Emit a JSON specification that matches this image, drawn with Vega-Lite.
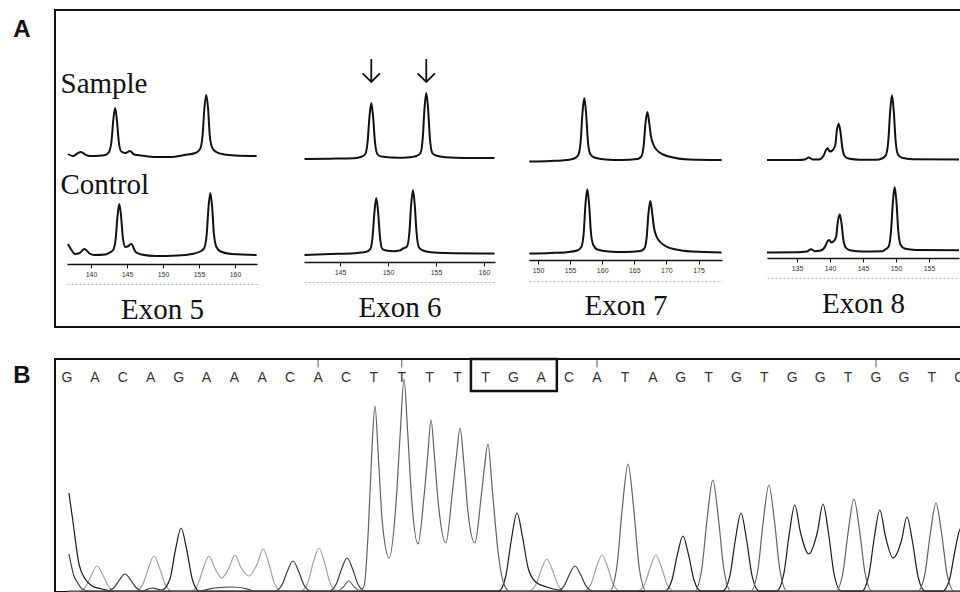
{
"$schema": "https://vega.github.io/schema/vega-lite/v6.json",
"background": "white",
"padding": {"left": 12, "top": 9, "right": 0, "bottom": 0},
"spacing": 28,
"config": {"view": {"stroke": "#111", "strokeWidth": 2}, "axis": {"grid": false, "labelOverlap": false}},
"datasets": {
"e5s": [{"bp":136.8,"rfu":20},{"bp":137.5,"rfu":0},{"bp":138.1,"rfu":25},{"bp":138.6,"rfu":40},{"bp":139.2,"rfu":15},{"bp":139.8,"rfu":0},{"bp":141.5,"rfu":5},{"bp":142.0,"rfu":10},{"bp":142.5,"rfu":40},{"bp":142.85,"rfu":150},{"bp":143.1,"rfu":360},{"bp":143.35,"rfu":480},{"bp":143.6,"rfu":360},{"bp":143.85,"rfu":150},{"bp":144.2,"rfu":45},{"bp":144.8,"rfu":30},{"bp":145.4,"rfu":50},{"bp":146.0,"rfu":15},{"bp":147.0,"rfu":5},{"bp":149.0,"rfu":-10},{"bp":151.0,"rfu":-10},{"bp":153.0,"rfu":10},{"bp":154.5,"rfu":30},{"bp":155.15,"rfu":70},{"bp":155.5,"rfu":210},{"bp":155.75,"rfu":480},{"bp":156.0,"rfu":610},{"bp":156.25,"rfu":480},{"bp":156.5,"rfu":200},{"bp":156.85,"rfu":80},{"bp":157.4,"rfu":40},{"bp":158.5,"rfu":15},{"bp":160.0,"rfu":5},{"bp":163.0,"rfu":0}],
"e5c": [{"bp":136.8,"rfu":110},{"bp":137.2,"rfu":60},{"bp":137.8,"rfu":10},{"bp":138.4,"rfu":20},{"bp":139.1,"rfu":60},{"bp":139.8,"rfu":15},{"bp":140.5,"rfu":0},{"bp":142.0,"rfu":5},{"bp":142.6,"rfu":25},{"bp":143.08,"rfu":50},{"bp":143.43,"rfu":165},{"bp":143.68,"rfu":385},{"bp":143.93,"rfu":510},{"bp":144.18,"rfu":385},{"bp":144.43,"rfu":170},{"bp":144.78,"rfu":80},{"bp":145.2,"rfu":90},{"bp":145.6,"rfu":110},{"bp":146.2,"rfu":30},{"bp":147.0,"rfu":5},{"bp":149.0,"rfu":-10},{"bp":152.0,"rfu":-5},{"bp":154.0,"rfu":10},{"bp":155.3,"rfu":40},{"bp":155.72,"rfu":70},{"bp":156.07,"rfu":210},{"bp":156.32,"rfu":480},{"bp":156.57,"rfu":620},{"bp":156.82,"rfu":480},{"bp":157.07,"rfu":210},{"bp":157.42,"rfu":80},{"bp":158.0,"rfu":35},{"bp":159.5,"rfu":10},{"bp":163.0,"rfu":0}],
"e6s": [{"bp":141.3,"rfu":0},{"bp":144,"rfu":3},{"bp":146.5,"rfu":8},{"bp":147.22,"rfu":22},{"bp":147.63,"rfu":48},{"bp":147.88,"rfu":175},{"bp":148.07,"rfu":420},{"bp":148.26,"rfu":560},{"bp":148.45,"rfu":420},{"bp":148.64,"rfu":175},{"bp":148.89,"rfu":50},{"bp":149.3,"rfu":25},{"bp":150.5,"rfu":15},{"bp":151.5,"rfu":12},{"bp":152.5,"rfu":20},{"bp":152.95,"rfu":30},{"bp":153.36,"rfu":55},{"bp":153.62,"rfu":205},{"bp":153.8,"rfu":500},{"bp":153.99,"rfu":660},{"bp":154.18,"rfu":500},{"bp":154.37,"rfu":205},{"bp":154.62,"rfu":60},{"bp":155.0,"rfu":35},{"bp":156.0,"rfu":18},{"bp":158.0,"rfu":10},{"bp":161.1,"rfu":10}],
"e6c": [{"bp":141.3,"rfu":-10},{"bp":144,"rfu":0},{"bp":146.5,"rfu":8},{"bp":147.74,"rfu":22},{"bp":148.15,"rfu":48},{"bp":148.4,"rfu":175},{"bp":148.59,"rfu":420},{"bp":148.78,"rfu":560},{"bp":148.97,"rfu":420},{"bp":149.16,"rfu":175},{"bp":149.41,"rfu":50},{"bp":149.8,"rfu":35},{"bp":150.6,"rfu":28},{"bp":151.2,"rfu":35},{"bp":151.56,"rfu":55},{"bp":151.97,"rfu":75},{"bp":152.23,"rfu":215},{"bp":152.41,"rfu":490},{"bp":152.6,"rfu":640},{"bp":152.79,"rfu":490},{"bp":152.98,"rfu":210},{"bp":153.23,"rfu":65},{"bp":153.64,"rfu":35},{"bp":154.5,"rfu":18},{"bp":156.0,"rfu":10},{"bp":161.1,"rfu":5}],
"e7s": [{"bp":148.65,"rfu":-5},{"bp":152,"rfu":0},{"bp":154.5,"rfu":10},{"bp":155.65,"rfu":25},{"bp":156.28,"rfu":60},{"bp":156.65,"rfu":200},{"bp":156.93,"rfu":480},{"bp":157.21,"rfu":630},{"bp":157.49,"rfu":480},{"bp":157.77,"rfu":200},{"bp":158.14,"rfu":70},{"bp":158.77,"rfu":35},{"bp":160.5,"rfu":15},{"bp":163.0,"rfu":10},{"bp":165.47,"rfu":20},{"bp":166.1,"rfu":45},{"bp":166.47,"rfu":160},{"bp":166.75,"rfu":380},{"bp":167.03,"rfu":490},{"bp":167.31,"rfu":390},{"bp":167.59,"rfu":250},{"bp":168.0,"rfu":160},{"bp":168.5,"rfu":110},{"bp":169.5,"rfu":65},{"bp":171.0,"rfu":35},{"bp":173.5,"rfu":15},{"bp":178.6,"rfu":10}],
"e7c": [{"bp":148.65,"rfu":-5},{"bp":152,"rfu":0},{"bp":154.5,"rfu":8},{"bp":156.12,"rfu":25},{"bp":156.75,"rfu":60},{"bp":157.12,"rfu":200},{"bp":157.4,"rfu":490},{"bp":157.68,"rfu":637},{"bp":157.96,"rfu":490},{"bp":158.24,"rfu":210},{"bp":158.61,"rfu":80},{"bp":159.24,"rfu":35},{"bp":161.0,"rfu":15},{"bp":163.5,"rfu":10},{"bp":165.93,"rfu":20},{"bp":166.56,"rfu":45},{"bp":166.93,"rfu":160},{"bp":167.21,"rfu":400},{"bp":167.49,"rfu":520},{"bp":167.77,"rfu":410},{"bp":168.05,"rfu":260},{"bp":168.46,"rfu":165},{"bp":168.96,"rfu":115},{"bp":169.96,"rfu":65},{"bp":171.5,"rfu":35},{"bp":174.0,"rfu":15},{"bp":178.6,"rfu":5}],
"e8s": [{"bp":130.45,"rfu":0},{"bp":135.0,"rfu":0},{"bp":136.2,"rfu":5},{"bp":136.77,"rfu":25},{"bp":137.4,"rfu":5},{"bp":138.3,"rfu":5},{"bp":139.0,"rfu":40},{"bp":139.4,"rfu":100},{"bp":139.65,"rfu":117},{"bp":139.95,"rfu":85},{"bp":140.25,"rfu":90},{"bp":140.77,"rfu":140},{"bp":141.05,"rfu":300},{"bp":141.32,"rfu":363},{"bp":141.59,"rfu":280},{"bp":141.87,"rfu":120},{"bp":142.23,"rfu":40},{"bp":142.8,"rfu":15},{"bp":144.5,"rfu":3},{"bp":147.0,"rfu":2},{"bp":147.89,"rfu":15},{"bp":148.48,"rfu":50},{"bp":148.84,"rfu":195},{"bp":149.12,"rfu":490},{"bp":149.39,"rfu":647},{"bp":149.66,"rfu":490},{"bp":149.94,"rfu":195},{"bp":150.3,"rfu":55},{"bp":150.9,"rfu":22},{"bp":152.5,"rfu":8},{"bp":159.55,"rfu":5}],
"e8c": [{"bp":130.45,"rfu":-5},{"bp":135.0,"rfu":-3},{"bp":136.5,"rfu":5},{"bp":137.12,"rfu":27},{"bp":137.7,"rfu":8},{"bp":138.6,"rfu":15},{"bp":139.3,"rfu":60},{"bp":139.6,"rfu":105},{"bp":139.89,"rfu":120},{"bp":140.2,"rfu":95},{"bp":140.5,"rfu":105},{"bp":140.92,"rfu":150},{"bp":141.2,"rfu":310},{"bp":141.47,"rfu":377},{"bp":141.74,"rfu":290},{"bp":142.02,"rfu":125},{"bp":142.38,"rfu":45},{"bp":143.0,"rfu":18},{"bp":145.0,"rfu":5},{"bp":148.0,"rfu":8},{"bp":148.3,"rfu":22},{"bp":148.89,"rfu":55},{"bp":149.25,"rfu":210},{"bp":149.53,"rfu":500},{"bp":149.8,"rfu":650},{"bp":150.07,"rfu":500},{"bp":150.35,"rfu":210},{"bp":150.71,"rfu":70},{"bp":151.3,"rfu":35},{"bp":153.0,"rfu":20},{"bp":159.55,"rfu":17}],
"arrows": [{"bp":148.26},{"bp":153.99}],
"calls": [{"pos":0,"base":"G"},{"pos":1,"base":"A"},{"pos":2,"base":"C"},{"pos":3,"base":"A"},{"pos":4,"base":"G"},{"pos":5,"base":"A"},{"pos":6,"base":"A"},{"pos":7,"base":"A"},{"pos":8,"base":"C"},{"pos":9,"base":"A"},{"pos":10,"base":"C"},{"pos":11,"base":"T"},{"pos":12,"base":"T"},{"pos":13,"base":"T"},{"pos":14,"base":"T"},{"pos":15,"base":"T"},{"pos":16,"base":"G"},{"pos":17,"base":"A"},{"pos":18,"base":"C"},{"pos":19,"base":"A"},{"pos":20,"base":"T"},{"pos":21,"base":"A"},{"pos":22,"base":"G"},{"pos":23,"base":"T"},{"pos":24,"base":"G"},{"pos":25,"base":"T"},{"pos":26,"base":"G"},{"pos":27,"base":"G"},{"pos":28,"base":"T"},{"pos":29,"base":"G"},{"pos":30,"base":"G"},{"pos":31,"base":"T"},{"pos":32,"base":"G"}],
"chromatogram": [
{"base":"A","pos":0.05,"rfu":0},{"base":"A","pos":0.43,"rfu":0},{"base":"A","pos":0.68,"rfu":48},{"base":"A","pos":0.88,"rfu":165},{"base":"A","pos":1.08,"rfu":250},{"base":"A","pos":1.28,"rfu":165},{"base":"A","pos":1.48,"rfu":48},{"base":"A","pos":1.73,"rfu":0},{"base":"A","pos":2.47,"rfu":0},{"base":"A","pos":2.72,"rfu":66},{"base":"A","pos":2.92,"rfu":230},{"base":"A","pos":3.12,"rfu":350},{"base":"A","pos":3.32,"rfu":230},{"base":"A","pos":3.52,"rfu":66},{"base":"A","pos":3.77,"rfu":0},{"base":"A","pos":4.44,"rfu":0},{"base":"A","pos":4.69,"rfu":66},{"base":"A","pos":4.89,"rfu":230},{"base":"A","pos":5.09,"rfu":350},{"base":"A","pos":5.29,"rfu":235},{"base":"A","pos":5.55,"rfu":130},{"base":"A","pos":5.82,"rfu":240},{"base":"A","pos":6.02,"rfu":360},{"base":"A","pos":6.22,"rfu":245},{"base":"A","pos":6.52,"rfu":150},{"base":"A","pos":6.83,"rfu":280},{"base":"A","pos":7.03,"rfu":420},{"base":"A","pos":7.23,"rfu":280},{"base":"A","pos":7.43,"rfu":80},{"base":"A","pos":7.68,"rfu":0},{"base":"A","pos":8.38,"rfu":0},{"base":"A","pos":8.63,"rfu":82},{"base":"A","pos":8.83,"rfu":285},{"base":"A","pos":9.03,"rfu":430},{"base":"A","pos":9.23,"rfu":285},{"base":"A","pos":9.43,"rfu":82},{"base":"A","pos":9.68,"rfu":0},{"base":"A","pos":16.55,"rfu":0},{"base":"A","pos":16.8,"rfu":60},{"base":"A","pos":17.0,"rfu":210},{"base":"A","pos":17.2,"rfu":320},{"base":"A","pos":17.4,"rfu":210},{"base":"A","pos":17.6,"rfu":60},{"base":"A","pos":17.85,"rfu":0},{"base":"A","pos":18.53,"rfu":0},{"base":"A","pos":18.78,"rfu":68},{"base":"A","pos":18.98,"rfu":238},{"base":"A","pos":19.18,"rfu":360},{"base":"A","pos":19.38,"rfu":238},{"base":"A","pos":19.58,"rfu":68},{"base":"A","pos":19.83,"rfu":0},{"base":"A","pos":20.46,"rfu":0},{"base":"A","pos":20.71,"rfu":68},{"base":"A","pos":20.91,"rfu":238},{"base":"A","pos":21.11,"rfu":360},{"base":"A","pos":21.31,"rfu":238},{"base":"A","pos":21.51,"rfu":68},{"base":"A","pos":21.76,"rfu":0},{"base":"A","pos":32.4,"rfu":0},
{"base":"C","pos":0.07,"rfu":370},{"base":"C","pos":0.25,"rfu":150},{"base":"C","pos":0.39,"rfu":80},{"base":"C","pos":0.54,"rfu":20},{"base":"C","pos":0.8,"rfu":0},{"base":"C","pos":1.43,"rfu":0},{"base":"C","pos":1.68,"rfu":32},{"base":"C","pos":1.88,"rfu":112},{"base":"C","pos":2.08,"rfu":170},{"base":"C","pos":2.28,"rfu":112},{"base":"C","pos":2.48,"rfu":32},{"base":"C","pos":2.73,"rfu":0},{"base":"C","pos":4.7,"rfu":0},{"base":"C","pos":5.3,"rfu":30},{"base":"C","pos":5.9,"rfu":40},{"base":"C","pos":6.4,"rfu":25},{"base":"C","pos":6.7,"rfu":0},{"base":"C","pos":7.45,"rfu":0},{"base":"C","pos":7.7,"rfu":57},{"base":"C","pos":7.9,"rfu":198},{"base":"C","pos":8.1,"rfu":300},{"base":"C","pos":8.3,"rfu":198},{"base":"C","pos":8.5,"rfu":57},{"base":"C","pos":8.75,"rfu":0},{"base":"C","pos":9.39,"rfu":0},{"base":"C","pos":9.64,"rfu":63},{"base":"C","pos":9.84,"rfu":218},{"base":"C","pos":10.04,"rfu":330},{"base":"C","pos":10.24,"rfu":218},{"base":"C","pos":10.44,"rfu":63},{"base":"C","pos":10.69,"rfu":0},{"base":"C","pos":17.56,"rfu":0},{"base":"C","pos":17.81,"rfu":48},{"base":"C","pos":18.01,"rfu":165},{"base":"C","pos":18.21,"rfu":250},{"base":"C","pos":18.41,"rfu":165},{"base":"C","pos":18.61,"rfu":48},{"base":"C","pos":18.86,"rfu":0},{"base":"C","pos":32.4,"rfu":0},
{"base":"G","pos":0.07,"rfu":980},{"base":"G","pos":0.2,"rfu":720},{"base":"G","pos":0.43,"rfu":270},{"base":"G","pos":0.65,"rfu":120},{"base":"G","pos":0.9,"rfu":50},{"base":"G","pos":1.25,"rfu":20},{"base":"G","pos":1.6,"rfu":0},{"base":"G","pos":2.7,"rfu":0},{"base":"G","pos":3.05,"rfu":30},{"base":"G","pos":3.4,"rfu":10},{"base":"G","pos":3.69,"rfu":120},{"base":"G","pos":3.89,"rfu":415},{"base":"G","pos":4.09,"rfu":630},{"base":"G","pos":4.29,"rfu":415},{"base":"G","pos":4.49,"rfu":120},{"base":"G","pos":4.74,"rfu":0},{"base":"G","pos":15.48,"rfu":0},{"base":"G","pos":15.73,"rfu":150},{"base":"G","pos":15.93,"rfu":515},{"base":"G","pos":16.13,"rfu":780},{"base":"G","pos":16.33,"rfu":540},{"base":"G","pos":16.53,"rfu":230},{"base":"G","pos":16.8,"rfu":90},{"base":"G","pos":17.2,"rfu":40},{"base":"G","pos":17.6,"rfu":10},{"base":"G","pos":17.9,"rfu":0},{"base":"G","pos":21.43,"rfu":0},{"base":"G","pos":21.68,"rfu":105},{"base":"G","pos":21.88,"rfu":363},{"base":"G","pos":22.08,"rfu":550},{"base":"G","pos":22.28,"rfu":363},{"base":"G","pos":22.48,"rfu":105},{"base":"G","pos":22.73,"rfu":0},{"base":"G","pos":23.51,"rfu":0},{"base":"G","pos":23.76,"rfu":148},{"base":"G","pos":23.96,"rfu":515},{"base":"G","pos":24.16,"rfu":780},{"base":"G","pos":24.36,"rfu":515},{"base":"G","pos":24.56,"rfu":148},{"base":"G","pos":24.81,"rfu":0},{"base":"G","pos":25.44,"rfu":0},{"base":"G","pos":25.69,"rfu":163},{"base":"G","pos":25.89,"rfu":568},{"base":"G","pos":26.09,"rfu":860},{"base":"G","pos":26.29,"rfu":590},{"base":"G","pos":26.59,"rfu":370},{"base":"G","pos":26.9,"rfu":590},{"base":"G","pos":27.1,"rfu":870},{"base":"G","pos":27.3,"rfu":575},{"base":"G","pos":27.5,"rfu":165},{"base":"G","pos":27.75,"rfu":0},{"base":"G","pos":28.49,"rfu":0},{"base":"G","pos":28.74,"rfu":154},{"base":"G","pos":28.94,"rfu":535},{"base":"G","pos":29.14,"rfu":810},{"base":"G","pos":29.34,"rfu":545},{"base":"G","pos":29.61,"rfu":330},{"base":"G","pos":29.91,"rfu":500},{"base":"G","pos":30.11,"rfu":740},{"base":"G","pos":30.31,"rfu":490},{"base":"G","pos":30.51,"rfu":140},{"base":"G","pos":30.76,"rfu":0},{"base":"G","pos":31.39,"rfu":0},{"base":"G","pos":31.64,"rfu":120},{"base":"G","pos":31.84,"rfu":415},{"base":"G","pos":32.04,"rfu":630},{"base":"G","pos":32.24,"rfu":415},{"base":"G","pos":32.44,"rfu":120},
{"base":"T","pos":0.05,"rfu":0},{"base":"T","pos":9.7,"rfu":0},{"base":"T","pos":9.9,"rfu":40},{"base":"T","pos":10.1,"rfu":100},{"base":"T","pos":10.3,"rfu":40},{"base":"T","pos":10.5,"rfu":5},{"base":"T","pos":10.65,"rfu":50},{"base":"T","pos":10.8,"rfu":600},{"base":"T","pos":10.92,"rfu":1350},{"base":"T","pos":11.04,"rfu":1850},{"base":"T","pos":11.16,"rfu":1350},{"base":"T","pos":11.3,"rfu":700},{"base":"T","pos":11.55,"rfu":330},{"base":"T","pos":11.8,"rfu":900},{"base":"T","pos":11.95,"rfu":1600},{"base":"T","pos":12.08,"rfu":2120},{"base":"T","pos":12.21,"rfu":1600},{"base":"T","pos":12.36,"rfu":900},{"base":"T","pos":12.58,"rfu":470},{"base":"T","pos":12.8,"rfu":950},{"base":"T","pos":12.93,"rfu":1350},{"base":"T","pos":13.05,"rfu":1710},{"base":"T","pos":13.17,"rfu":1350},{"base":"T","pos":13.32,"rfu":850},{"base":"T","pos":13.58,"rfu":480},{"base":"T","pos":13.82,"rfu":1000},{"base":"T","pos":13.96,"rfu":1350},{"base":"T","pos":14.09,"rfu":1630},{"base":"T","pos":14.22,"rfu":1300},{"base":"T","pos":14.37,"rfu":800},{"base":"T","pos":14.62,"rfu":480},{"base":"T","pos":14.85,"rfu":950},{"base":"T","pos":14.97,"rfu":1250},{"base":"T","pos":15.09,"rfu":1470},{"base":"T","pos":15.25,"rfu":1000},{"base":"T","pos":15.45,"rfu":400},{"base":"T","pos":15.65,"rfu":80},{"base":"T","pos":15.85,"rfu":0},{"base":"T","pos":19.46,"rfu":0},{"base":"T","pos":19.71,"rfu":240},{"base":"T","pos":19.91,"rfu":840},{"base":"T","pos":20.11,"rfu":1270},{"base":"T","pos":20.31,"rfu":840},{"base":"T","pos":20.51,"rfu":240},{"base":"T","pos":20.76,"rfu":0},{"base":"T","pos":22.5,"rfu":0},{"base":"T","pos":22.75,"rfu":210},{"base":"T","pos":22.95,"rfu":730},{"base":"T","pos":23.15,"rfu":1110},{"base":"T","pos":23.35,"rfu":730},{"base":"T","pos":23.55,"rfu":210},{"base":"T","pos":23.8,"rfu":0},{"base":"T","pos":24.51,"rfu":0},{"base":"T","pos":24.76,"rfu":200},{"base":"T","pos":24.96,"rfu":700},{"base":"T","pos":25.16,"rfu":1060},{"base":"T","pos":25.36,"rfu":700},{"base":"T","pos":25.56,"rfu":200},{"base":"T","pos":25.81,"rfu":0},{"base":"T","pos":27.56,"rfu":0},{"base":"T","pos":27.81,"rfu":175},{"base":"T","pos":28.01,"rfu":607},{"base":"T","pos":28.21,"rfu":920},{"base":"T","pos":28.41,"rfu":607},{"base":"T","pos":28.61,"rfu":175},{"base":"T","pos":28.86,"rfu":0},{"base":"T","pos":30.5,"rfu":0},{"base":"T","pos":30.75,"rfu":167},{"base":"T","pos":30.95,"rfu":580},{"base":"T","pos":31.15,"rfu":880},{"base":"T","pos":31.35,"rfu":580},{"base":"T","pos":31.55,"rfu":167},{"base":"T","pos":31.8,"rfu":0},{"base":"T","pos":32.4,"rfu":0}
]
},
"vconcat": [
{
"width": 915, "height": 317,
"title": {"text": "A", "orient": "left", "anchor": "end", "angle": 0, "align": "right", "baseline": "top", "font": "Liberation Sans", "fontSize": 24, "fontWeight": "bold", "color": "#111", "offset": 7, "dy": 8},
"layer": [
{
"layer": [
{"data": {"name": "e5s"}, "mark": {"type": "line", "color": "#111", "strokeWidth": 2, "interpolate": "monotone"},
 "encoding": {
  "x": {"field": "bp", "type": "quantitative", "scale": {"domain": [136.67, 163.05], "range": [12, 202], "nice": false, "zero": false},
        "axis": {"orient": "bottom", "offset": -43, "domainColor": "#bbb", "domainWidth": 1, "domainDash": [2, 2], "ticks": false, "labels": false, "title": null, "grid": false}},
  "y": {"field": "rfu", "type": "quantitative", "scale": {"domain": [-1710, 1460], "nice": false, "zero": false},
        "axis": {"orient": "left", "minExtent": 0, "domain": false, "ticks": false, "labels": false, "grid": false, "title": "Sample", "titleAngle": 0, "titleAlign": "left", "titleBaseline": "alphabetic", "titleX": 5, "titleY": 82, "titleFont": "Liberation Serif", "titleFontSize": 29, "titleFontWeight": "normal", "titleColor": "#111"}}
 }},
{"data": {"name": "e5c"}, "mark": {"type": "line", "color": "#111", "strokeWidth": 2, "interpolate": "monotone"},
 "encoding": {
  "x": {"field": "bp", "type": "quantitative", "scale": {"domain": [136.67, 163.05], "range": [12, 202], "nice": false, "zero": false},
        "axis": {"orient": "bottom", "offset": -63, "values": [140, 145, 150, 155, 160], "tickSize": 4, "tickColor": "#111", "domainColor": "#111", "domainWidth": 1.5, "labelFont": "Liberation Sans", "labelFontSize": 7, "labelColor": "#333", "labelPadding": 2, "labelFlush": false, "labelBound": false, "grid": false, "title": "Exon 5", "titleY": 54, "titleBaseline": "alphabetic", "titleFont": "Liberation Serif", "titleFontSize": 29, "titleFontWeight": "normal", "titleColor": "#111"}},
  "y": {"field": "rfu", "type": "quantitative", "scale": {"domain": [-720, 2450], "nice": false, "zero": false},
        "axis": {"orient": "left", "minExtent": 0, "domain": false, "ticks": false, "labels": false, "grid": false, "title": "Control", "titleAngle": 0, "titleAlign": "left", "titleBaseline": "alphabetic", "titleX": 5, "titleY": 183, "titleFont": "Liberation Serif", "titleFontSize": 29, "titleFontWeight": "normal", "titleColor": "#111"}}
 }}
],
"resolve": {"scale": {"y": "independent"}, "axis": {"x": "independent", "y": "independent"}}
},
{
"layer": [
{"data": {"name": "e6s"}, "mark": {"type": "line", "color": "#111", "strokeWidth": 2, "interpolate": "monotone"},
 "encoding": {
  "x": {"field": "bp", "type": "quantitative", "scale": {"domain": [141.25, 161.15], "range": [249, 440], "nice": false, "zero": false},
        "axis": {"orient": "bottom", "offset": -45, "domainColor": "#bbb", "domainWidth": 1, "domainDash": [2, 2], "ticks": false, "labels": false, "title": null, "grid": false}},
  "y": {"field": "rfu", "type": "quantitative", "scale": {"domain": [-1680, 1490], "nice": false, "zero": false}, "axis": null}
 }},
{"data": {"name": "e6c"}, "mark": {"type": "line", "color": "#111", "strokeWidth": 2, "interpolate": "monotone"},
 "encoding": {
  "x": {"field": "bp", "type": "quantitative", "scale": {"domain": [141.25, 161.15], "range": [249, 440], "nice": false, "zero": false},
        "axis": {"orient": "bottom", "offset": -65, "values": [145, 150, 155, 160], "tickSize": 4, "tickColor": "#111", "domainColor": "#111", "domainWidth": 1.5, "labelFont": "Liberation Sans", "labelFontSize": 7, "labelColor": "#333", "labelPadding": 2, "labelFlush": false, "labelBound": false, "grid": false, "title": "Exon 6", "titleY": 54, "titleBaseline": "alphabetic", "titleFont": "Liberation Serif", "titleFontSize": 29, "titleFontWeight": "normal", "titleColor": "#111"}},
  "y": {"field": "rfu", "type": "quantitative", "scale": {"domain": [-730, 2440], "nice": false, "zero": false}, "axis": null}
 }},
{"data": {"name": "arrows"}, "mark": {"type": "rule", "color": "#111", "strokeWidth": 1.8},
 "encoding": {
  "x": {"field": "bp", "type": "quantitative", "scale": {"domain": [141.25, 161.15], "range": [249, 440], "nice": false, "zero": false}, "axis": null},
  "y": {"datum": 1000, "type": "quantitative", "scale": {"domain": [-1680, 1490], "nice": false, "zero": false}, "axis": null},
  "y2": {"datum": 770}
 }},
{"data": {"name": "arrows"}, "mark": {"type": "point", "shape": "M-1,-1L0,0L1,-1", "filled": false, "color": "#111", "strokeWidth": 1.8, "size": 300, "opacity": 1},
 "encoding": {
  "x": {"field": "bp", "type": "quantitative", "scale": {"domain": [141.25, 161.15], "range": [249, 440], "nice": false, "zero": false}, "axis": null},
  "y": {"datum": 770, "type": "quantitative", "scale": {"domain": [-1680, 1490], "nice": false, "zero": false}, "axis": null}
 }}
],
"resolve": {"scale": {"y": "independent"}, "axis": {"x": "independent", "y": "independent"}}
},
{
"layer": [
{"data": {"name": "e7s"}, "mark": {"type": "line", "color": "#111", "strokeWidth": 2, "interpolate": "monotone"},
 "encoding": {
  "x": {"field": "bp", "type": "quantitative", "scale": {"domain": [148.6, 178.66], "range": [474, 667], "nice": false, "zero": false},
        "axis": {"orient": "bottom", "offset": -46, "domainColor": "#bbb", "domainWidth": 1, "domainDash": [2, 2], "ticks": false, "labels": false, "title": null, "grid": false}},
  "y": {"field": "rfu", "type": "quantitative", "scale": {"domain": [-1660, 1510], "nice": false, "zero": false}, "axis": null}
 }},
{"data": {"name": "e7c"}, "mark": {"type": "line", "color": "#111", "strokeWidth": 2, "interpolate": "monotone"},
 "encoding": {
  "x": {"field": "bp", "type": "quantitative", "scale": {"domain": [148.6, 178.66], "range": [474, 667], "nice": false, "zero": false},
        "axis": {"orient": "bottom", "offset": -67, "values": [150, 155, 160, 165, 170, 175], "tickSize": 4, "tickColor": "#111", "domainColor": "#111", "domainWidth": 1.5, "labelFont": "Liberation Sans", "labelFontSize": 7, "labelColor": "#333", "labelPadding": 2, "labelFlush": false, "labelBound": false, "grid": false, "title": "Exon 7", "titleY": 54, "titleBaseline": "alphabetic", "titleFont": "Liberation Serif", "titleFontSize": 29, "titleFontWeight": "normal", "titleColor": "#111"}},
  "y": {"field": "rfu", "type": "quantitative", "scale": {"domain": [-740, 2430], "nice": false, "zero": false}, "axis": null}
 }}
],
"resolve": {"scale": {"y": "independent"}, "axis": {"x": "independent", "y": "independent"}}
},
{
"layer": [
{"data": {"name": "e8s"}, "mark": {"type": "line", "color": "#111", "strokeWidth": 2, "interpolate": "monotone"},
 "encoding": {
  "x": {"field": "bp", "type": "quantitative", "scale": {"domain": [130.45, 159.55], "range": [712, 904], "nice": false, "zero": false},
        "axis": {"orient": "bottom", "offset": -49, "domainColor": "#bbb", "domainWidth": 1, "domainDash": [2, 2], "ticks": false, "labels": false, "title": null, "grid": false}},
  "y": {"field": "rfu", "type": "quantitative", "scale": {"domain": [-1670, 1500], "nice": false, "zero": false}, "axis": null}
 }},
{"data": {"name": "e8c"}, "mark": {"type": "line", "color": "#111", "strokeWidth": 2, "interpolate": "monotone"},
 "encoding": {
  "x": {"field": "bp", "type": "quantitative", "scale": {"domain": [130.45, 159.55], "range": [712, 904], "nice": false, "zero": false},
        "axis": {"orient": "bottom", "offset": -69, "values": [135, 140, 145, 150, 155], "tickSize": 4, "tickColor": "#111", "domainColor": "#111", "domainWidth": 1.5, "labelFont": "Liberation Sans", "labelFontSize": 7, "labelColor": "#333", "labelPadding": 2, "labelFlush": false, "labelBound": false, "grid": false, "title": "Exon 8", "titleY": 54, "titleBaseline": "alphabetic", "titleFont": "Liberation Serif", "titleFontSize": 29, "titleFontWeight": "normal", "titleColor": "#111"}},
  "y": {"field": "rfu", "type": "quantitative", "scale": {"domain": [-750, 2420], "nice": false, "zero": false}, "axis": null}
 }}
],
"resolve": {"scale": {"y": "independent"}, "axis": {"x": "independent", "y": "independent"}}
}
],
"resolve": {"scale": {"x": "independent", "y": "independent"}, "axis": {"x": "independent", "y": "independent"}}
},
{
"width": 915, "height": 233,
"title": {"text": "B", "orient": "left", "anchor": "end", "angle": 0, "align": "right", "baseline": "top", "font": "Liberation Sans", "fontSize": 24, "fontWeight": "bold", "color": "#111", "offset": 7, "dy": 6},
"layer": [
{"data": {"name": "chromatogram"}, "mark": {"type": "line", "strokeWidth": 1.2, "interpolate": "monotone", "clip": true},
 "encoding": {
  "x": {"field": "pos", "type": "quantitative", "scale": {"domain": [-0.43, 32.37], "nice": false, "zero": false}, "axis": null},
  "y": {"field": "rfu", "type": "quantitative", "scale": {"domain": [-10, 2320], "nice": false, "zero": false}, "axis": null},
  "color": {"field": "base", "type": "nominal", "scale": {"domain": ["A", "C", "G", "T"], "range": ["#a3a3a3", "#3c3c3c", "#1a1a1a", "#606060"]}, "legend": null}
 }},
{"data": {"name": "calls"}, "mark": {"type": "text", "font": "Liberation Sans", "fontSize": 14, "color": "#333", "baseline": "middle", "align": "center"},
 "encoding": {
  "x": {"field": "pos", "type": "quantitative", "scale": {"domain": [-0.43, 32.37], "nice": false, "zero": false}, "axis": null},
  "y": {"datum": 2130, "type": "quantitative", "scale": {"domain": [-10, 2320], "nice": false, "zero": false}, "axis": null},
  "text": {"field": "base", "type": "nominal"}
 }},
{"data": {"values": [{"pos": 9}, {"pos": 12}, {"pos": 19}, {"pos": 29}]}, "mark": {"type": "rule", "color": "#555", "strokeWidth": 1},
 "encoding": {
  "x": {"field": "pos", "type": "quantitative", "scale": {"domain": [-0.43, 32.37], "nice": false, "zero": false}, "axis": null},
  "y": {"datum": 2310, "type": "quantitative", "scale": {"domain": [-10, 2320], "nice": false, "zero": false}, "axis": null},
  "y2": {"datum": 2235}
 }},
{"data": {"values": [{"codon": "TGA"}]}, "mark": {"type": "rect", "fill": "transparent", "stroke": "#111", "strokeWidth": 2.5},
 "encoding": {
  "x": {"datum": 14.48, "type": "quantitative", "scale": {"domain": [-0.43, 32.37], "nice": false, "zero": false}, "axis": null},
  "x2": {"datum": 17.56},
  "y": {"datum": 2320, "type": "quantitative", "scale": {"domain": [-10, 2320], "nice": false, "zero": false}, "axis": null},
  "y2": {"datum": 2000}
 }}
]
}
]
}
